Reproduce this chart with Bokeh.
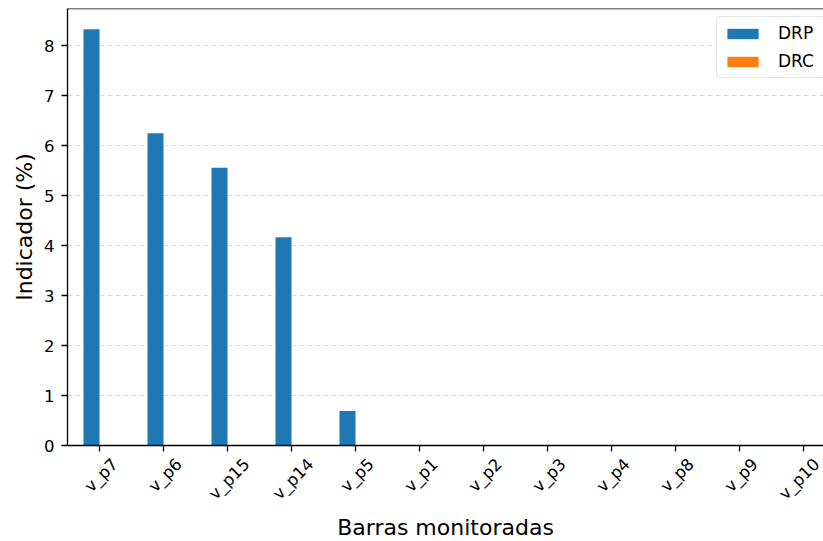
import math
from bokeh.plotting import figure
from bokeh.models import ColumnDataSource, FixedTicker, Span, Legend, LegendItem, LinearAxis
from bokeh.transform import dodge
from bokeh.embed import file_html
from bokeh.resources import INLINE

categories = ["v_p7", "v_p6", "v_p15", "v_p14", "v_p5", "v_p1", "v_p2",
              "v_p3", "v_p4", "v_p8", "v_p9", "v_p10"]
drp = [8.33, 6.25, 5.56, 4.17, 0.69, 0, 0, 0, 0, 0, 0, 0]
drc = [0, 0, 0, 0, 0, 0, 0, 0, 0, 0, 0, 0]
y_ticks = [0, 1, 2, 3, 4, 5, 6, 7, 8]

idx = list(range(len(categories)))
src = ColumnDataSource(dict(idx=idx, cat=categories, drp=drp, drc=drc))

FONT = "DejaVu Sans"
TICK_PX = 16.5
FRAME_W = 756
X_START, X_END = -0.5, 11.3125
y_top = max(drp + drc) * 1.05

p = figure(frame_width=FRAME_W, frame_height=437, output_backend="svg",
           toolbar_location=None, x_range=(X_START, X_END), y_range=(0, y_top),
           min_border_left=67, min_border_right=0, min_border_top=8,
           min_border_bottom=96)
p.outline_line_color = None
p.background_fill_color = "white"
p.border_fill_color = "white"

r1 = p.vbar(x=dodge("idx", -0.125), top="drp", width=0.25, source=src,
            fill_color="#1f77b4", line_color=None)
r2 = p.vbar(x=dodge("idx", 0.125), top="drc", width=0.25, source=src,
            fill_color="#ff7f0e", line_color=None)

p.xgrid.grid_line_color = None
p.ygrid.grid_line_color = "#dcdcdc"
p.ygrid.grid_line_dash = "5 3"
p.ygrid.grid_line_width = 1.2
p.ygrid.ticker = FixedTicker(ticks=y_ticks)


def style_axis(ax):
    ax.axis_line_color = "black"
    ax.axis_line_width = 1.3
    ax.major_tick_line_color = "black"
    ax.major_tick_line_width = 1.3
    ax.major_tick_out = 6
    ax.major_tick_in = 0
    ax.minor_tick_line_color = None
    ax.major_label_text_font = FONT
    ax.major_label_text_font_size = f"{TICK_PX}px"
    ax.major_label_text_color = "black"
    ax.axis_label_text_font = FONT
    ax.axis_label_text_font_size = "22px"
    ax.axis_label_text_font_style = "normal"
    ax.axis_label_text_color = "black"


# bottom axis: spine + tick marks only (labels blank)
xa = p.xaxis[0]
style_axis(xa)
xa.ticker = FixedTicker(ticks=idx)
xa.major_label_overrides = {i: "" for i in idx}
xa.major_label_standoff = 0

# label axis: rotated labels centred under each tick (matplotlib-like)
CHAR_W = {"v": 0.592, "_": 0.500, "p": 0.635}
px_per_unit = FRAME_W / (X_END - X_START)


def centre_shift(label):
    adv = sum(CHAR_W.get(ch, 0.636) for ch in label) * TICK_PX
    half_box = (adv + 1.164 * TICK_PX) * math.cos(math.pi / 4) / 2
    return (half_box - 5) / px_per_unit


label_pos = [i + centre_shift(c) for i, c in zip(idx, categories)]
la = LinearAxis()
style_axis(la)
la.ticker = FixedTicker(ticks=label_pos)
la.major_label_overrides = {pos: c for pos, c in zip(label_pos, categories)}
la.major_label_orientation = math.pi / 4
la.axis_line_color = None
la.major_tick_line_color = None
la.major_tick_out = 0
la.major_label_standoff = 10
la.axis_label = "Barras monitoradas"
la.axis_label_standoff = 2
p.add_layout(la, "below")

ya = p.yaxis[0]
style_axis(ya)
ya.ticker = FixedTicker(ticks=y_ticks)
ya.major_label_standoff = 7
ya.axis_label = "Indicador (%)"
ya.axis_label_standoff = 4

top_spine = Span(location=y_top, dimension="width", line_color="black", line_width=1.3)
p.add_layout(top_spine)

legend = Legend(items=[LegendItem(label="DRP", renderers=[r1]),
                       LegendItem(label="DRC", renderers=[r2])],
                location=(649, 367))
legend.label_text_font = FONT
legend.label_text_font_size = "17px"
legend.label_text_color = "black"
legend.glyph_width = 39
legend.glyph_height = 13
legend.label_height = 20
legend.label_width = 60
legend.spacing = 8
legend.padding = 6
legend.label_standoff = 16
legend.margin = 0
legend.border_line_color = "#cccccc"
legend.border_line_width = 1.2
legend.background_fill_color = "white"
legend.background_fill_alpha = 0.85
if "border_radius" in legend.properties():
    legend.border_radius = 4
p.add_layout(legend)

open("out.html", "w").write(file_html(p, INLINE))
